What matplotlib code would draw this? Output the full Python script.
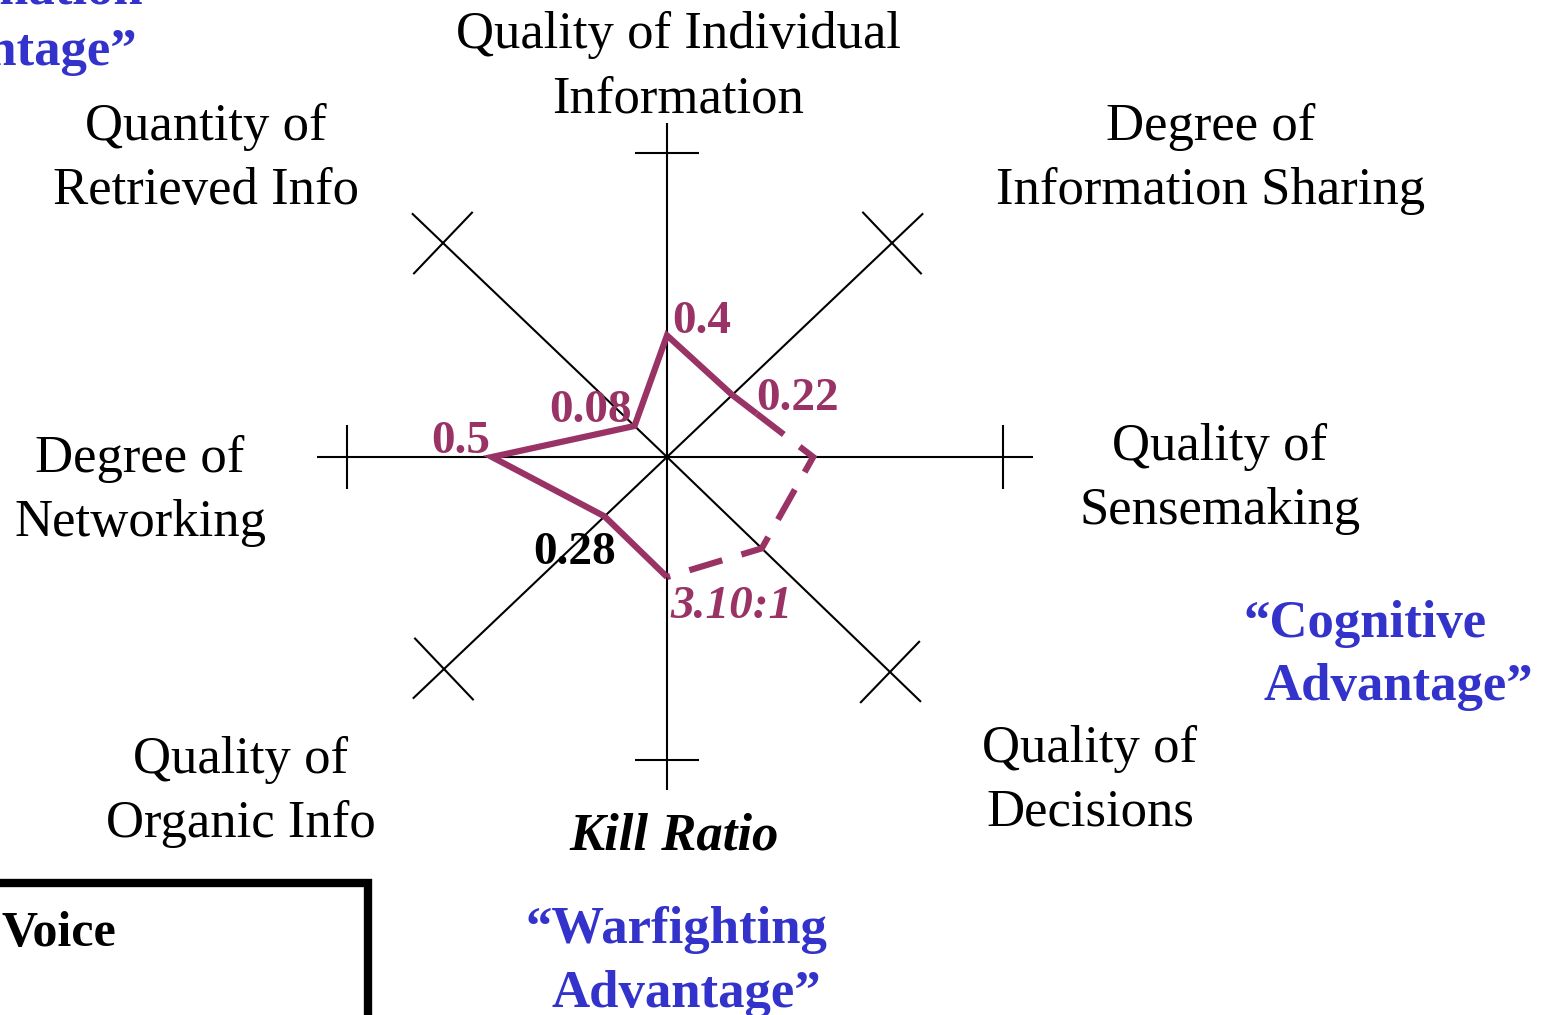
import numpy as np
import matplotlib
matplotlib.use("Agg")
import matplotlib.pyplot as plt
from matplotlib.patches import Rectangle

# ---------------- data ----------------
axis_names = ["Quality of Individual Information", "Degree of Information Sharing",
              "Quality of Sensemaking", "Quality of Decisions", "Kill Ratio",
              "Quality of Organic Info", "Degree of Networking", "Quantity of Retrieved Info"]
value_labels = ["0.4", "0.22", "", "", "3.10:1", "0.28", "0.5", "0.08"]
# plotted position of each vertex as a fraction of the axis length
positions = [0.40, 0.29, 0.435, 0.425, 0.396, 0.28, 0.547, 0.145]

# ---------------- layout ----------------
W, H = 1542, 1015
CX, CY = 667, 457
# offset (px) from centre to the tick / cross mark of each axis
ends = np.array([(0, -304), (225, -214), (336, 0), (223, 215),
                 (0, 303), (-223, 212), (-320, 0), (-224, -214)], dtype=float)
is_cross = [False, True, False, True, False, True, False, True]

PURPLE = "#993366"
BLUE = "#3333CC"
SERIF = ["Liberation Serif", "DejaVu Serif"]

fig = plt.figure(figsize=(W / 100, H / 100), dpi=100)
ax = fig.add_axes([0, 0, 1, 1])
ax.set_xlim(0, W)
ax.set_ylim(H, 0)
ax.axis("off")

# ---- axes with tick bars / crosses ----
for (dx, dy), cross in zip(ends, is_cross):
    L = np.hypot(dx, dy)
    u = np.array([dx, dy]) / L
    p = np.array([-u[1], u[0]])
    tip = np.array([CX, CY]) + u * L
    ext = 43 if cross else 30
    half = 43 if cross else 32
    far = tip + u * ext
    ax.plot([CX, far[0]], [CY, far[1]], color="black", lw=1.5, solid_capstyle="butt")
    a, b = tip - p * half, tip + p * half
    ax.plot([a[0], b[0]], [a[1], b[1]], color="black", lw=1.5, solid_capstyle="butt")

# ---- data polygon ----
pos = np.array(positions)
vx = CX + ends[:, 0] * pos
vy = CY + ends[:, 1] * pos
split_frac = 0.3  # solid part of segment TR -> R
sx = vx[1] + (vx[2] - vx[1]) * split_frac
sy = vy[1] + (vy[2] - vy[1]) * split_frac
solid_idx = [4, 5, 6, 7, 0, 1]
ax.plot(list(vx[solid_idx]) + [sx], list(vy[solid_idx]) + [sy], color=PURPLE, lw=4.5,
        solid_joinstyle="miter", solid_capstyle="butt")
ax.plot([sx, vx[2], vx[3], vx[4]], [sy, vy[2], vy[3], vy[4]], color=PURPLE, lw=4.5,
        dashes=(5.5, 3.2), dash_capstyle="butt", dash_joinstyle="miter")

# ---- value labels ----
VFS = 34
ax.text(672, 333, value_labels[0], fontsize=VFS, fontweight="bold", color=PURPLE,
        family=SERIF, ha="left", va="baseline")
ax.text(756, 410, value_labels[1], fontsize=VFS, fontweight="bold", color=PURPLE,
        family=SERIF, ha="left", va="baseline")
ax.text(632, 422, value_labels[7], fontsize=VFS, fontweight="bold", color=PURPLE,
        family=SERIF, ha="right", va="baseline")
ax.text(490, 453, value_labels[6], fontsize=VFS, fontweight="bold", color=PURPLE,
        family=SERIF, ha="right", va="baseline")
ax.text(533, 564, value_labels[5], fontsize=VFS, fontweight="bold", color="black",
        family=SERIF, ha="left", va="baseline")
ax.text(670, 618, value_labels[4], fontsize=VFS, fontweight="bold", style="italic",
        color=PURPLE, family=SERIF, ha="left", va="baseline")

# ---- axis labels ----
LFS = 38
STEP = 64


def lines(xc, y0, txts, **kw):
    for i, t in enumerate(txts):
        ax.text(xc, y0 + i * STEP, t, fontsize=LFS, family=SERIF, ha="center",
                va="baseline", **kw)


lines(678, 48, ["Quality of Individual", "Information"])
lines(206, 140, ["Quantity of", "Retrieved Info"])
lines(1211, 140, ["Degree of", "Information Sharing"])
lines(140, 472, ["Degree of", "Networking"])
lines(1220, 460, ["Quality of", "Sensemaking"])
lines(241, 773, ["Quality of", "Organic Info"])
lines(1090, 762, ["Quality of", "Decisions"])
ax.text(674, 850, "Kill Ratio", fontsize=LFS, family=SERIF, fontweight="bold",
        style="italic", ha="center", va="baseline")

# ---- blue group labels ----
BFS = 38
for x, y, t, ha in [(525, 943, "\u201cWarfighting", "left"), (552, 1007, "Advantage\u201d", "left"),
                    (1243, 637, "\u201cCognitive", "left"), (1263, 700, "Advantage\u201d", "left"),
                    (143, 3, "\u201cInformation", "right"), (137, 65, "Advantage\u201d", "right")]:
    ax.text(x, y, t, fontsize=BFS, family=SERIF, fontweight="bold", color=BLUE,
            ha=ha, va="baseline")

# ---- Voice box ----
ax.add_patch(Rectangle((-20, 883), 388, 200, fill=False, lw=6, edgecolor="black"))
ax.text(1, 946, "Voice", fontsize=36, family=SERIF, fontweight="bold", color="black",
        ha="left", va="baseline")

fig.savefig("out.png", dpi=100)
